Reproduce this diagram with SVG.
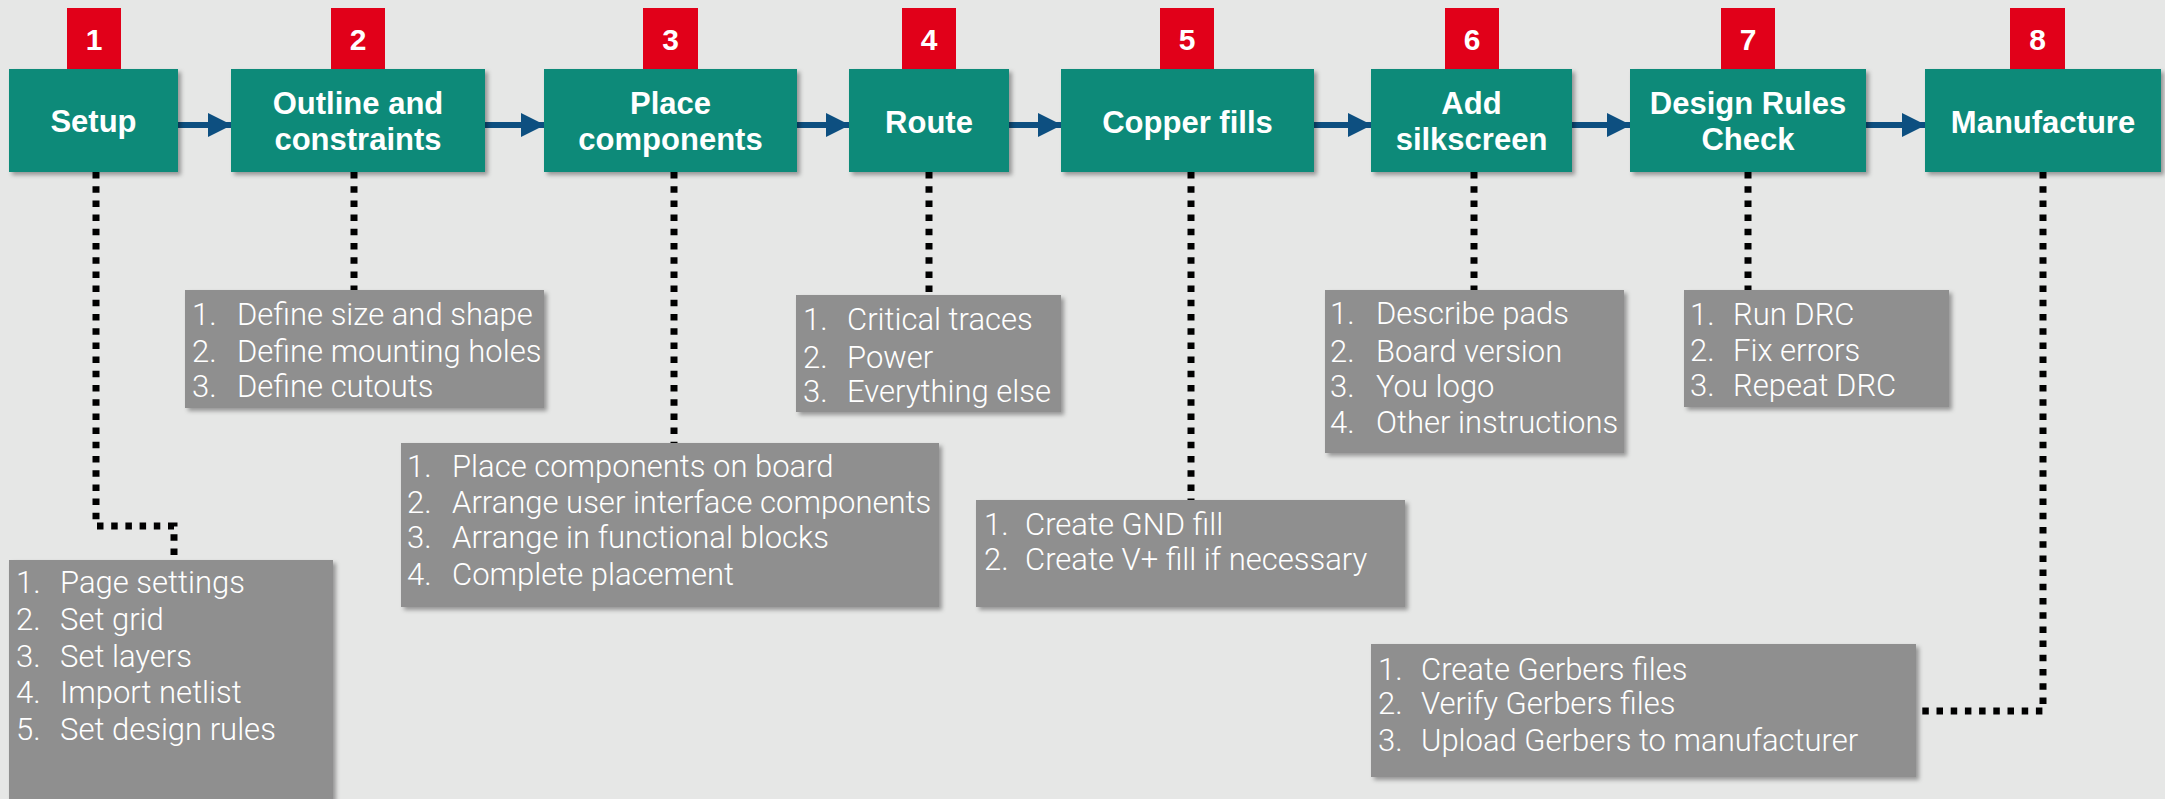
<svg xmlns="http://www.w3.org/2000/svg" width="2165" height="799" viewBox="0 0 2165 799">
<style>
.bg{fill:#e6e7e6}
.step{fill:#0b8a79;filter:url(#sh)}
.badge{fill:#e10019}
.list{fill:#8f8f8f;filter:url(#sh)}
.t{font-family:"Liberation Sans",Arial,Helvetica,sans-serif;font-weight:bold;font-size:31px;fill:#fff;text-anchor:middle}
.n{font-family:"Liberation Sans",Arial,Helvetica,sans-serif;font-weight:bold;font-size:30px;fill:#fff;text-anchor:middle}
.l{font-family:Roboto,"Liberation Sans",Arial,sans-serif;font-weight:300;font-size:31px;fill:#fff}
.arrow{stroke:#0d4f80;stroke-width:6;fill:none;marker-end:url(#ah)}
.dot{stroke:#000;stroke-width:7;fill:none;stroke-dasharray:6.5 7.7}
</style>
<defs>
<filter id="sh" x="-5%" y="-5%" width="115%" height="120%">
<feDropShadow dx="3" dy="3" stdDeviation="2" flood-color="#000" flood-opacity="0.35"/>
</filter>
<marker id="ah" markerUnits="userSpaceOnUse" markerWidth="24" markerHeight="24" refX="23" refY="12" orient="auto">
<path d="M0,0 L24,12 L0,24 Z" fill="#0d4f80"/>
</marker>
</defs>
<rect class="bg" x="0" y="0" width="2165" height="799"/>

<g id="connectors">
<line class="arrow" x1="178" y1="125" x2="231" y2="125"/>
<line class="arrow" x1="485" y1="125" x2="544" y2="125"/>
<line class="arrow" x1="797" y1="125" x2="849" y2="125"/>
<line class="arrow" x1="1009" y1="125" x2="1061" y2="125"/>
<line class="arrow" x1="1314" y1="125" x2="1371" y2="125"/>
<line class="arrow" x1="1572" y1="125" x2="1630" y2="125"/>
<line class="arrow" x1="1866" y1="125" x2="1925" y2="125"/>
<polyline class="dot" points="96,172 96,526 174,526 174,560"/>
<line class="dot" x1="354" y1="172" x2="354" y2="290"/>
<line class="dot" x1="674" y1="172" x2="674" y2="443"/>
<line class="dot" x1="929" y1="172" x2="929" y2="295"/>
<line class="dot" x1="1191" y1="172" x2="1191" y2="500"/>
<line class="dot" x1="1474" y1="172" x2="1474" y2="290"/>
<line class="dot" x1="1748" y1="172" x2="1748" y2="290"/>
<polyline class="dot" points="2043,172 2043,711 1916,711"/>
</g>

<g id="step1">
<rect class="badge" x="67" y="8" width="54" height="61"/>
<text class="n" x="94" y="50">1</text>
<rect class="step" x="9" y="69" width="169" height="103"/>
<text class="t" x="93.5" y="132">Setup</text>
</g>
<g id="step2">
<rect class="badge" x="331" y="8" width="54" height="61"/>
<text class="n" x="358" y="50">2</text>
<rect class="step" x="231" y="69" width="254" height="103"/>
<text class="t" x="358" y="114">Outline and</text>
<text class="t" x="358" y="150">constraints</text>
</g>
<g id="step3">
<rect class="badge" x="643" y="8" width="55" height="61"/>
<text class="n" x="670.5" y="50">3</text>
<rect class="step" x="544" y="69" width="253" height="103"/>
<text class="t" x="670.5" y="114">Place</text>
<text class="t" x="670.5" y="150">components</text>
</g>
<g id="step4">
<rect class="badge" x="902" y="8" width="54" height="61"/>
<text class="n" x="929" y="50">4</text>
<rect class="step" x="849" y="69" width="160" height="103"/>
<text class="t" x="929" y="133">Route</text>
</g>
<g id="step5">
<rect class="badge" x="1160" y="8" width="54" height="61"/>
<text class="n" x="1187" y="50">5</text>
<rect class="step" x="1061" y="69" width="253" height="103"/>
<text class="t" x="1187.5" y="133">Copper fills</text>
</g>
<g id="step6">
<rect class="badge" x="1445" y="8" width="54" height="61"/>
<text class="n" x="1472" y="50">6</text>
<rect class="step" x="1371" y="69" width="201" height="103"/>
<text class="t" x="1471.5" y="114">Add</text>
<text class="t" x="1471.5" y="150">silkscreen</text>
</g>
<g id="step7">
<rect class="badge" x="1721" y="8" width="54" height="61"/>
<text class="n" x="1748" y="50">7</text>
<rect class="step" x="1630" y="69" width="236" height="103"/>
<text class="t" x="1748" y="114">Design Rules</text>
<text class="t" x="1748" y="150">Check</text>
</g>
<g id="step8">
<rect class="badge" x="2010" y="8" width="55" height="61"/>
<text class="n" x="2037.5" y="50">8</text>
<rect class="step" x="1925" y="69" width="236" height="103"/>
<text class="t" x="2043" y="133">Manufacture</text>
</g>

<g id="list1">
<rect class="list" x="9" y="560" width="324" height="250"/>
<text class="l" x="16" y="593">1.</text><text class="l" x="60" y="593">Page settings</text>
<text class="l" x="16" y="630">2.</text><text class="l" x="60" y="630">Set grid</text>
<text class="l" x="16" y="667">3.</text><text class="l" x="60" y="667">Set layers</text>
<text class="l" x="16" y="703">4.</text><text class="l" x="60" y="703">Import netlist</text>
<text class="l" x="16" y="740">5.</text><text class="l" x="60" y="740">Set design rules</text>
</g>
<g id="list2">
<rect class="list" x="185" y="290" width="359" height="118"/>
<text class="l" x="192" y="325">1.</text><text class="l" x="237" y="325">Define size and shape</text>
<text class="l" x="192" y="362">2.</text><text class="l" x="237" y="362">Define mounting holes</text>
<text class="l" x="192" y="397">3.</text><text class="l" x="237" y="397">Define cutouts</text>
</g>
<g id="list3">
<rect class="list" x="401" y="443" width="538" height="164"/>
<text class="l" x="407" y="477">1.</text><text class="l" x="452" y="477">Place components on board</text>
<text class="l" x="407" y="513">2.</text><text class="l" x="452" y="513">Arrange user interface components</text>
<text class="l" x="407" y="548">3.</text><text class="l" x="452" y="548">Arrange in functional blocks</text>
<text class="l" x="407" y="585">4.</text><text class="l" x="452" y="585">Complete placement</text>
</g>
<g id="list4">
<rect class="list" x="796" y="295" width="265" height="117"/>
<text class="l" x="803" y="330">1.</text><text class="l" x="847" y="330">Critical traces</text>
<text class="l" x="803" y="368">2.</text><text class="l" x="847" y="368">Power</text>
<text class="l" x="803" y="402">3.</text><text class="l" x="847" y="402">Everything else</text>
</g>
<g id="list5">
<rect class="list" x="976" y="500" width="429" height="107"/>
<text class="l" x="984" y="535">1.</text><text class="l" x="1025" y="535">Create GND fill</text>
<text class="l" x="984" y="570">2.</text><text class="l" x="1025" y="570">Create V+ fill if necessary</text>
</g>
<g id="list6">
<rect class="list" x="1325" y="290" width="299" height="163"/>
<text class="l" x="1330" y="324">1.</text><text class="l" x="1376" y="324">Describe pads</text>
<text class="l" x="1330" y="362">2.</text><text class="l" x="1376" y="362">Board version</text>
<text class="l" x="1330" y="397">3.</text><text class="l" x="1376" y="397">You logo</text>
<text class="l" x="1330" y="433">4.</text><text class="l" x="1376" y="433">Other instructions</text>
</g>
<g id="list7">
<rect class="list" x="1684" y="290" width="265" height="117"/>
<text class="l" x="1690" y="325">1.</text><text class="l" x="1733" y="325">Run DRC</text>
<text class="l" x="1690" y="361">2.</text><text class="l" x="1733" y="361">Fix errors</text>
<text class="l" x="1690" y="396">3.</text><text class="l" x="1733" y="396">Repeat DRC</text>
</g>
<g id="list8">
<rect class="list" x="1371" y="644" width="545" height="133"/>
<text class="l" x="1378" y="680">1.</text><text class="l" x="1421" y="680">Create Gerbers files</text>
<text class="l" x="1378" y="714">2.</text><text class="l" x="1421" y="714">Verify Gerbers files</text>
<text class="l" x="1378" y="751">3.</text><text class="l" x="1421" y="751">Upload Gerbers to manufacturer</text>
</g>
</svg>
